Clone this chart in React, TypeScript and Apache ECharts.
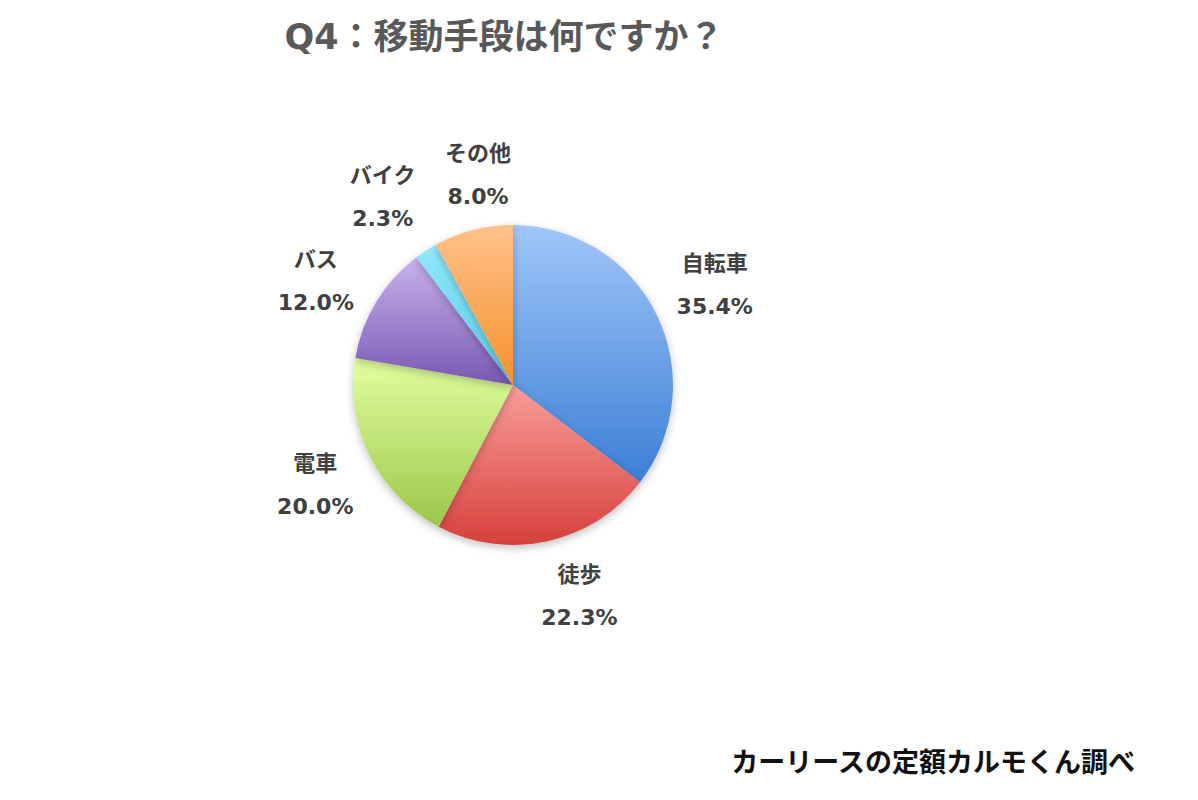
import React, { useEffect, useRef } from 'react';
import * as echarts from 'echarts';

// 移動手段の内訳（%）
const categories = ['自転車', '徒歩', '電車', 'バス', 'バイク', 'その他'];
const shares = [35.4, 22.3, 20.0, 12.0, 2.3, 8.0];
// 上が明るく下が濃いグラデーション
const topColors = ['#A0C6F9', '#F99D99', '#E2FF9F', '#C8B3EC', '#92E8FA', '#FFC18B'];
const bottomColors = ['#3C7FD5', '#D6403B', '#9CC64B', '#7857B2', '#55CDE9', '#F5922C'];

const TITLE = 'Q4：移動手段は何ですか？';
const SOURCE = 'カーリースの定額カルモくん調べ';
const FONT = "'DejaVu Sans', 'Noto Sans CJK JP', sans-serif";

// Excel風のラベル位置の微調整（px）
const labelNudge: [number, number][] = [[0, 0], [18, -9], [4, 0], [-5, 13], [-8, 1], [21, 8]];

const App: React.FC = () => {
  const chartRef = useRef<HTMLDivElement>(null);

  useEffect(() => {
    if (!chartRef.current) return;
    const chart = echarts.init(chartRef.current, null, { renderer: 'svg' });

    const pieData = categories.map((name, i) => ({
      name,
      value: shares[i],
      itemStyle: {
        color: new echarts.graphic.LinearGradient(0, 0, 0, 1, [
          { offset: 0, color: topColors[i] },
          { offset: 1, color: bottomColors[i] }
        ])
      }
    }));

    const labelData = categories.map((name, i) => ({
      name,
      value: shares[i],
      label: { offset: labelNudge[i] }
    }));

    const labelText = {
      fontFamily: FONT,
      fontSize: 22,
      fontWeight: 'bold' as const,
      color: '#404040',
      lineHeight: 43,
      align: 'center' as const
    };

    const option: echarts.EChartsOption = {
      animation: false,
      backgroundColor: '#ffffff',
      graphic: [
        {
          type: 'text',
          x: 504,
          y: 37,
          style: {
            text: TITLE,
            align: 'center',
            verticalAlign: 'middle',
            font: `bold 35px ${FONT}`,
            fill: '#595959'
          }
        },
        {
          type: 'text',
          x: 1135,
          y: 762,
          style: {
            text: SOURCE,
            align: 'right',
            verticalAlign: 'middle',
            font: `bold 27px ${FONT}`,
            fill: '#111111'
          }
        }
      ],
      series: [
        {
          name: '移動手段',
          type: 'pie',
          center: [513, 385],
          radius: [0, 160],
          startAngle: 90,
          clockwise: true,
          label: { show: false },
          labelLine: { show: false },
          emphasis: { disabled: true },
          itemStyle: {
            borderWidth: 0,
            shadowBlur: 8,
            shadowOffsetY: 3,
            shadowColor: 'rgba(0, 0, 0, 0.25)'
          },
          data: pieData
        },
        {
          // ラベル用の透明なリング
          name: 'ラベル',
          type: 'pie',
          center: [513, 385],
          radius: [210, 234],
          startAngle: 90,
          clockwise: true,
          silent: true,
          itemStyle: { color: 'rgba(0,0,0,0)' },
          emphasis: { disabled: true },
          labelLine: { show: false },
          label: {
            show: true,
            position: 'inside',
            formatter: (p: any) => `{n|${p.name}}\n{v|${Number(p.value).toFixed(1)}%}`,
            rich: { n: labelText, v: labelText }
          },
          data: labelData
        }
      ]
    };

    chart.setOption(option);

    return () => {
      chart.dispose();
    };
  }, []);

  return (
    <div
      ref={chartRef}
      style={{
        position: 'absolute',
        left: 0,
        top: 0,
        width: '1198px',
        height: '800px'
      }}
    />
  );
};

export default App;
